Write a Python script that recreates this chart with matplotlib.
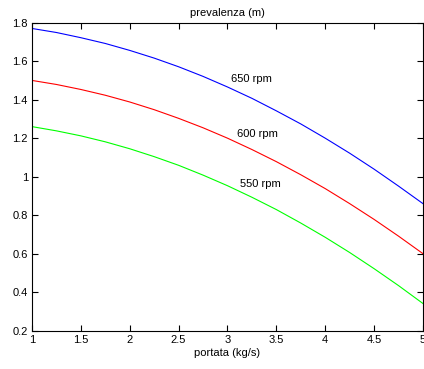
import matplotlib
matplotlib.use('Agg')
import matplotlib.pyplot as plt

# portata (kg/s)
portata = [1, 1.25, 1.5, 1.75, 2, 2.25, 2.5, 2.75, 3, 3.25, 3.5, 3.75, 4, 4.25, 4.5, 4.75, 5]
# prevalenza (m)
h_650 = [1.770, 1.749, 1.722, 1.692, 1.656, 1.616, 1.571, 1.521, 1.466, 1.407, 1.342,
         1.274, 1.200, 1.122, 1.039, 0.951, 0.860]
h_600 = [1.500, 1.479, 1.453, 1.423, 1.388, 1.348, 1.303, 1.254, 1.200, 1.141, 1.078,
         1.010, 0.938, 0.860, 0.778, 0.691, 0.600]
h_550 = [1.260, 1.238, 1.212, 1.181, 1.145, 1.104, 1.059, 1.008, 0.953, 0.893, 0.829,
         0.759, 0.685, 0.606, 0.522, 0.434, 0.341]
etichette = ['650 rpm', '600 rpm', '550 rpm']
pos_etichette = [(3.04, 1.51), (3.10, 1.22), (3.13, 0.96)]

plt.rcParams['font.family'] = ['Liberation Sans', 'DejaVu Sans']
plt.rcParams['font.size'] = 8

fig = plt.figure(figsize=(4.24, 3.69), dpi=100)
ax = fig.add_axes([0.0755, 0.104, 0.922, 0.8345])

ax.plot(portata, h_650, color='blue', lw=0.8)
ax.plot(portata, h_600, color='red', lw=0.8)
ax.plot(portata, h_550, color=(0, 1, 0), lw=0.8)

for txt, (x, y) in zip(etichette, pos_etichette):
    ax.text(x, y, txt, ha='left', va='center', fontsize=8)

ax.set_xlim(1, 5)
ax.set_ylim(0.2, 1.8)
ax.set_xticks([1, 1.5, 2, 2.5, 3, 3.5, 4, 4.5, 5])
ax.set_xticklabels(['1', '1.5', '2', '2.5', '3', '3.5', '4', '4.5', '5'])
ax.set_yticks([0.2, 0.4, 0.6, 0.8, 1, 1.2, 1.4, 1.6, 1.8])
ax.set_yticklabels(['0.2', '0.4', '0.6', '0.8', '1', '1.2', '1.4', '1.6', '1.8'])
ax.tick_params(direction='in', length=4, width=0.8, top=True, right=True,
               labelsize=8, pad=3)
for s in ax.spines.values():
    s.set_linewidth(0.8)

ax.set_title('prevalenza (m)', fontsize=8, pad=5)
ax.set_xlabel('portata (kg/s)', fontsize=8, labelpad=2)

fig.savefig('out.png', dpi=100)
